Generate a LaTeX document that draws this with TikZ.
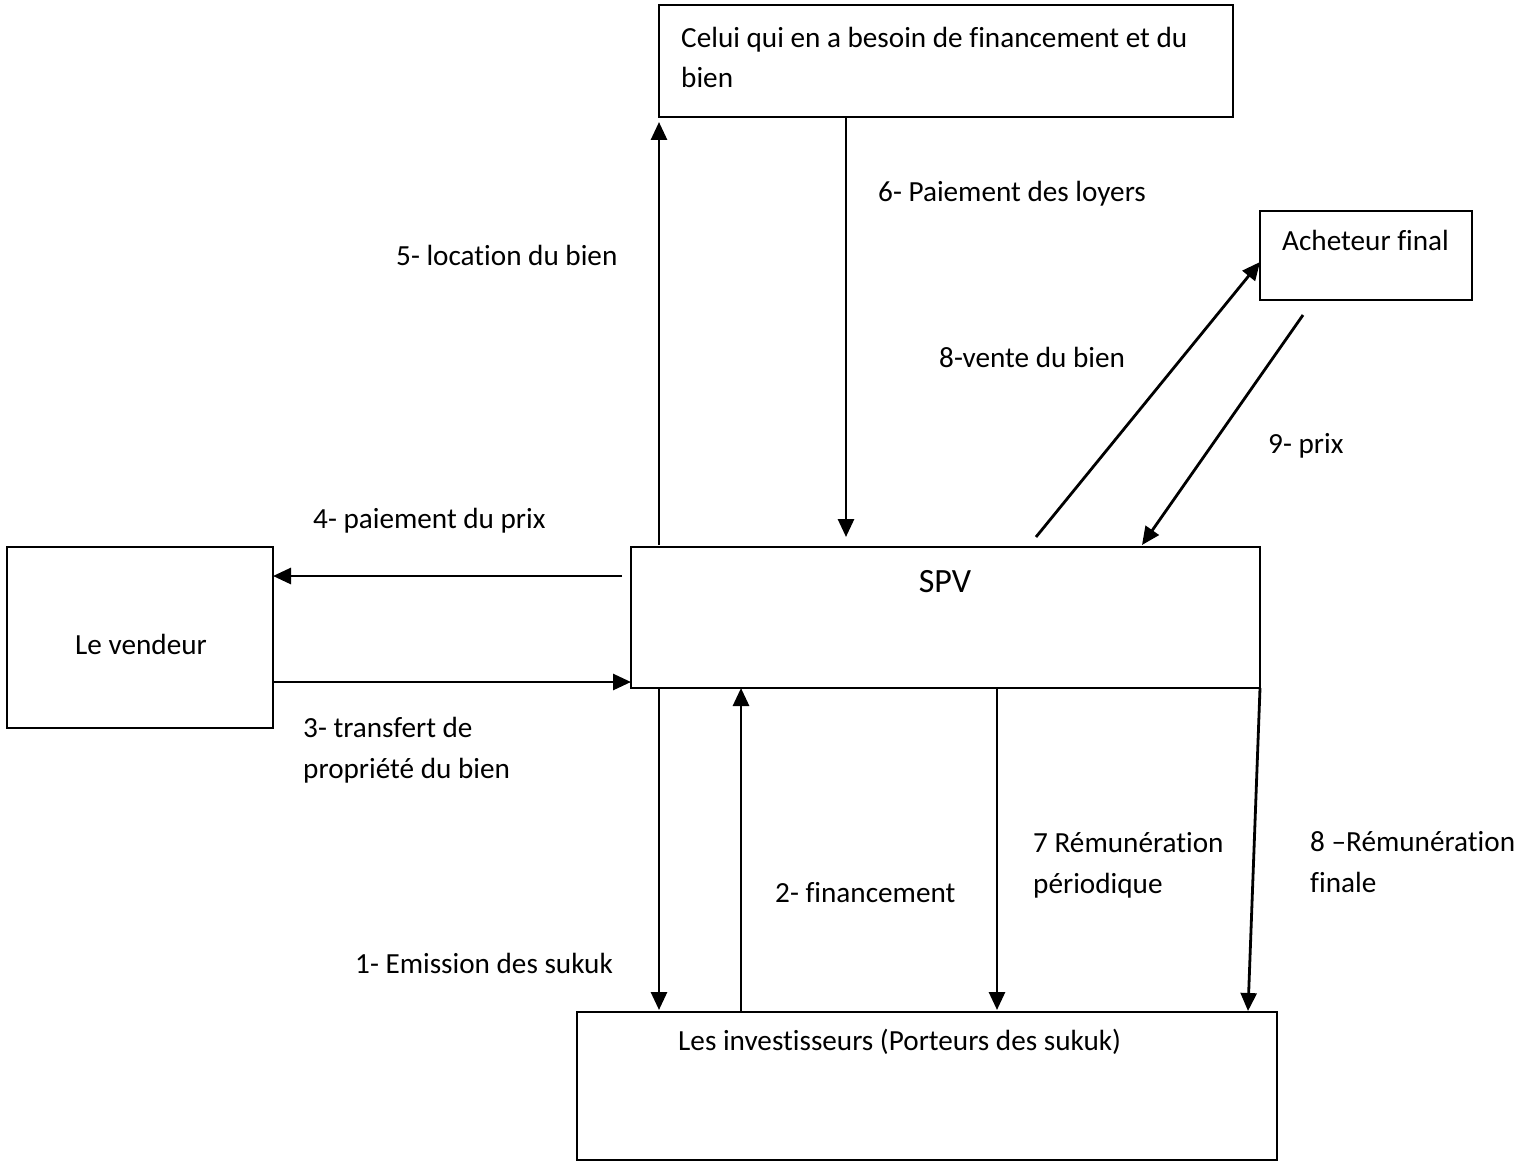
\documentclass[tikz,border=0pt]{standalone}
\usepackage{fontspec}
\setmainfont{Carlito}[Ligatures=NoCommon]
\usetikzlibrary{arrows.meta,calc}

\begin{document}
\begin{tikzpicture}[x=1pt,y=-1pt,
  box/.style={draw,line width=2.4pt,rectangle,inner sep=0pt,outer sep=0pt,anchor=north west},
  flow/.style={line width=2.8pt,-{Triangle[length=18pt,width=16pt]}},
  lbl/.style={anchor=base west,inner sep=0pt,font=\fontsize{29.2}{40.5}\selectfont,align=left},
  title/.style={anchor=base,inner sep=0pt,font=\fontsize{34}{40}\selectfont}]

\useasboundingbox (0,0) rectangle (1536,1161);

% parties
\node[box,minimum width=574pt,minimum height=112pt] (top)   at (659,5)    {};
\node[box,minimum width=212pt,minimum height=89pt]  (buyer) at (1260,211) {};
\node[box,minimum width=266pt,minimum height=181pt] (seller) at (7,547)   {};
\node[box,minimum width=629pt,minimum height=141pt] (spv)   at (631,547)  {};
\node[box,minimum width=700pt,minimum height=148pt] (inv)   at (577,1012) {};

% box texts (multi-line texts are placed by their last baseline)
\node[lbl] (ttop)   at (681,88)   {Celui qui en a besoin de financement et du\\bien};
\node[lbl] (tbuyer) at (1282,250) {Acheteur final};
\node[lbl,anchor=base] (tseller) at (141,654) {Le vendeur};
\node[title] (tspv) at (945,592) {SPV};
\node[lbl] (tinv)   at (678,1050) {Les investisseurs (Porteurs des sukuk)};

% flows
\draw[flow] ($(spv.south west)+(28,0)$)   -- ($(inv.north west)+(82,-2)$);
\draw[flow] ($(inv.north west)+(164,0)$)  -- ($(spv.south west)+(110,0)$);
\draw[flow] ($(seller.south east)+(0,-46)$) -- ($(spv.south west)+(0,-6)$);
\draw[flow] ($(spv.north west)+(-9,29)$)  -- ($(seller.north east)+(0,29)$);
\draw[flow] ($(spv.north west)+(28,-2)$)  -- ($(top.south west)+(0,5)$);
\draw[flow] ($(top.south west)+(187,0)$)  -- ($(spv.north west)+(215,-10)$);
\draw[flow] ($(spv.south west)+(366,0)$)  -- ($(inv.north west)+(420,-2)$);
\draw[flow] ($(spv.north west)+(405,-10)$) -- ($(buyer.north west)+(0,51)$);
\draw[flow] ($(buyer.south west)+(43,15)$) -- ($(spv.north west)+(511,-2)$);
\draw[flow] (spv.south east) -- ($(inv.north west)+(671,-1)$);

% flow labels
\node[lbl] (l6) at (878,201)  {6- Paiement des loyers};
\node[lbl] (l5) at (396,265)  {5- location du bien};
\node[lbl] (l8v) at (939,367) {8-vente du bien};
\node[lbl] (l9) at (1268,453) {9- prix};
\node[lbl] (l4) at (313,528)  {4- paiement du prix};
\node[lbl] (l3) at (303,778)  {3- transfert de\\propriété du bien};
\node[lbl] (l7) at (1033,893) {7 Rémunération\\périodique};
\node[lbl] (l8f) at (1310,892) {8 –Rémunération\\finale};
\node[lbl] (l2) at (775,902)  {2- financement};
\node[lbl] (l1) at (355,973)  {1- Emission des sukuk};
\end{tikzpicture}
\end{document}
